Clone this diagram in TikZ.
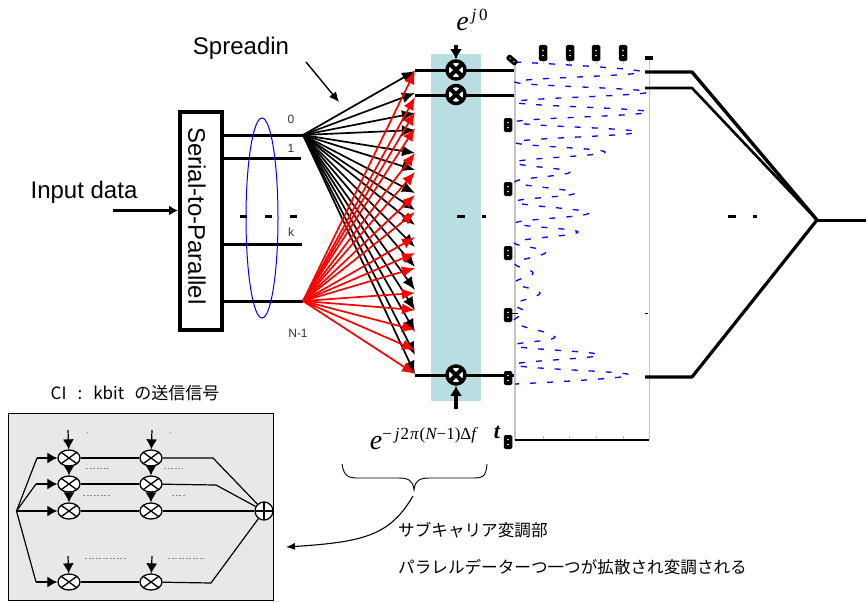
\documentclass[tikz,border=0pt]{standalone}
\usepackage{fontspec}
\setmainfont{Liberation Sans}
\newfontfamily\jpfont{Noto Sans CJK JP}
\newfontfamily\eqfont{Liberation Serif}
\usetikzlibrary{arrows.meta,shapes.geometric}
\definecolor{tealbar}{HTML}{B8DEE2}
\definecolor{panelgray}{HTML}{E8E8E8}
\definecolor{axisgray}{HTML}{C4C4C4}
\newcommand{\ExpLabel}[1]{{\eqfont\itshape\fontsize{28}{28}\selectfont e}\raisebox{10pt}{\eqfont\fontsize{17}{17}\selectfont #1}}
\tikzset{
bigtext/.style={font=\fontsize{24}{24}\selectfont,inner sep=0},
smalltext/.style={font=\fontsize{12}{12}\selectfont,inner sep=0,text=black!80},
jptext/.style={font=\jpfont\fontsize{16.6}{16.6}\selectfont,inner sep=0,anchor=west},
bus/.style={line width=3pt},
dotted bus/.style={line width=3pt,dash pattern=on 7pt off 18pt},
fan/.style={line width=1.7pt,-{Latex[length=13pt,width=11pt]}},
feed/.style={line width=3.5pt,-{Latex[length=10pt,width=12pt]}},
mixer/.style={circle,draw,fill=white,line width=3.5pt,minimum size=18pt,inner sep=0,
 path picture={\draw[line width=4pt](path picture bounding box.north west)--(path picture bounding box.south east)
 (path picture bounding box.north east)--(path picture bounding box.south west);}},
minimixer/.style={ellipse,draw,fill=white,line width=1.3pt,minimum width=22pt,minimum height=16pt,inner sep=0,
 path picture={\draw[line width=1.3pt](path picture bounding box.north west)--(path picture bounding box.south east)
 (path picture bounding box.north east)--(path picture bounding box.south west);}},
minisum/.style={ellipse,draw,fill=white,line width=1.3pt,minimum width=18pt,minimum height=18pt,inner sep=0,
 path picture={\draw[line width=1.3pt](path picture bounding box.north)--(path picture bounding box.south)
 (path picture bounding box.east)--(path picture bounding box.west);}},
minifeed/.style={line width=1.2pt,-{Latex[length=10pt,width=11pt]}},
miniwire/.style={line width=1.2pt},
scrib/.style={line width=.7pt,draw=black!45,dash pattern=on 2pt off 1.5pt},
axblob/.style={fill=black,rounded corners=1.5pt,minimum width=8.5pt,minimum height=14pt,inner sep=0,
 path picture={\fill[white](path picture bounding box.center)++(0,2.5)circle(.8pt)++(0,-5)circle(.8pt);}},
}
\begin{document}
\begin{tikzpicture}[x=1pt,y=-1pt]
\useasboundingbox(0,0)rectangle(866,602);
\fill[tealbar](431,54)rectangle(481,401);

\node[draw,line width=4pt,minimum width=42pt,minimum height=218pt,inner sep=0](sp)at(201,221){};
\node[bigtext,rotate=-90](sptext)at(197,216){Serial-to-Parallel};
\node[bigtext](input)at(84,192){Input data};
\node[bigtext](spread)at(241,48){Spreadin};
\coordinate(inputa)at(113,210.5);
\draw[line width=2.6pt,-{Latex[length=9pt,width=10pt]}](inputa)--(sp.west|-inputa);
\coordinate(spreada)at(306,62);
\coordinate(spreadb)at(339,102);
\draw[line width=1.4pt,-{Latex[length=10pt,width=9pt]}](spreada)--(spreadb);

\coordinate(out0)at(303,135);
\coordinate(out1)at(301,158);
\coordinate(outk)at(302,244);
\coordinate(outn)at(303,301);
\foreach \n in {0,1,k,n}
\draw[bus](sp.east|-out\n)--(out\n);
\node[smalltext](l0)at(291,119){0};
\node[smalltext](l1)at(291,148){1};
\node[smalltext](lk)at(291,232){k};
\node[smalltext](ln)at(298,333){N-1};
\coordinate(dota)at(240,216);
\coordinate(dotb)at(298,216);
\draw[dotted bus](dota)--(dotb);
\node[ellipse,draw=blue,line width=1pt,minimum width=32pt,minimum height=200pt,inner sep=0](group)at(262,218){};

\foreach \i/\y in {0/71,1/93,2/113,3/130,4/153,5/170,6/193,7/210,8/225,9/247,10/267,11/290,12/310,13/332,14/355,15/374}
\coordinate(tb\i)at(415,\y);
\foreach \i/\y in {0/71,1/97,2/112,3/128,4/153,5/172,6/195,7/212,8/237,9/253,10/268,11/293,12/310,13/330,14/350,15/374}
\coordinate(tr\i)at(415,\y);
\foreach \i in {0,...,15}
\draw[fan,black](out0)--(tb\i);
\foreach \i in {0,...,15}
\draw[fan,red](outn)--(tr\i);

\coordinate(end0)at(514,70);
\coordinate(end1)at(514,95);
\coordinate(end2)at(514,375);
\coordinate(st0)at(415,70);
\coordinate(st1)at(415,95);
\coordinate(st2)at(415,375);
\draw[bus](st0)--(end0);
\draw[bus](st1)--(end1);
\draw[bus](st2)--(end2);
\node[mixer](m0)at(456,70){};
\node[mixer](m1)at(456,94.500){};
\node[mixer](m2)at(456,375){};
\coordinate(fa)at(456,45);
\coordinate(fb)at(456,409);
\draw[feed](fa)--(m0);
\draw[feed](fb)--(m2);
\coordinate(da)at(457,216);
\coordinate(db)at(486,216);
\draw[line width=3pt,dash pattern=on 8pt off 17pt on 4pt off 9pt](da)--(db);
\node[inner sep=0](ej0)at(472,20){\ExpLabel{\,{\itshape j}\,0}};
\node[inner sep=0](ejn)at(423,439){\ExpLabel{−\hspace{3pt}{\itshape j}\hspace{1pt}2\hspace{1pt}{\itshape π}\hspace{1pt}({\itshape N}−1)Δ{\itshape f}}};
\node[inner sep=0,font=\eqfont\bfseries\itshape\fontsize{22}{22}\selectfont](tlab)at(497,432){t};

\draw[axisgray,line width=1pt](649,60)--(649,440);
\draw[axisgray,line width=2pt](515,60)--(515,440);
\foreach \x in {543,569,596,623}
\draw[axisgray,line width=.7pt](\x,440)--++(0,-4) (\x,60)--++(0,4);
\draw[black,line width=2.6pt](515,440)--(649,440);
\draw[black,line width=.7pt](512,313)--++(6,0) (645,313)--++(3,0);
\draw[blue,line width=1.3pt,dash pattern=on 6pt off 11pt,smooth,tension=.7]plot coordinates{
(515,62)(642,72)(515,82)(648,92)(515,102)(648,112)(515,122)(637,132)(515,142)(605,152)(515,162)(570,172)(515,182)(575,193)(515,202)(589,213)(515,223)
(578,232)(515,242)(546,252)(515,263)(533,273)(515,283)(540,293)(515,304)(525,312)(515,323)(555,337)(515,346)(599,355)(515,365)(630,375)(515,384)};
\foreach \i/\x/\y in {a/508/125,b/508/189,c/508/253,d/508/315,e/508/378,f/508/442}
\node[axblob](blob\i)at(\x,\y){};
\foreach \i/\x in {g/543,h/570,i/596,j/623}
\node[axblob,minimum height=16pt](blob\i)at(\x,53){};
\node[axblob,rotate=50,minimum height=12pt,minimum width=6pt](blobk)at(512,60){};
\fill(645,56)rectangle(653,60);

\coordinate(r0)at(645,72);
\coordinate(r1)at(645,88);
\coordinate(r2)at(645,377);
\coordinate(k0)at(692,72);
\coordinate(k1)at(692,88);
\coordinate(k2)at(692,377);
\coordinate(join)at(817,220);
\coordinate(last)at(866,220);
\draw[line width=3.4pt,line join=bevel](r0)--(k0)--(join);
\draw[line width=2.6pt,line join=bevel](r1)--(k1)--(join);
\draw[line width=3.2pt,line join=bevel](r2)--(k2)--(join);
\draw[line width=3pt](join)--(last);
\coordinate(ra)at(728,216);
\coordinate(rb)at(757,216);
\draw[line width=3pt,dash pattern=on 8pt off 17pt on 4pt off 9pt](ra)--(rb);

\draw[line width=.9pt](342,464)..controls(344,478)and(350,478)..(360,478)--(398,478)..controls(408,478)and(413,480)..(414,490)..controls(415,480)and(420,478)..(430,478)--(470,478)..controls(482,478)and(486,478)..(487,464);
\coordinate(cura)at(413,496);
\coordinate(curb)at(286,547);
\draw[line width=1.1pt,-{Latex[length=9pt,width=7pt]}](cura)..controls(390,535)and(365,542)..(curb);
\node[jptext](jp1)at(398,530){サブキャリア変調部};
\node[jptext](jp2)at(398,567){パラレルデーターつ一つが拡散され変調される};

\node[inner sep=0,font=\jpfont\fontsize{17}{17}\selectfont](cititle)at(135,393){CI\hspace{11pt}:\hspace{11pt}kbit\hspace{10pt}の送信信号};
\node[draw,fill=panelgray,line width=1pt,minimum width=265pt,minimum height=187pt,inner sep=0](panel)at(141,506.500){};
\coordinate(pin)at(16.500,511);
\foreach \r/\y in {a/458,b/484,c/511,d/582}{
\node[minimixer](ml\r)at(69,\y){};
\node[minimixer](mr\r)at(151,\y){};
\draw[miniwire](ml\r)--(mr\r);}
\node[minisum](msum)at(264,511){};
\foreach \r/\x/\y in {a/37/458,b/36/484,d/36/582}{
\coordinate(bend\r)at(\x,\y);
\draw[miniwire](pin)--(bend\r);
\draw[minifeed](bend\r)--(ml\r);}
\draw[minifeed](pin)--(mlc);
\coordinate(outa)at(213,458);
\coordinate(outb)at(216,485);
\coordinate(outd)at(211,583);
\draw[miniwire](mra)--(outa)--(msum);
\draw[miniwire](mrb)--(outb)--(msum);
\draw[miniwire](mrc)--(msum);
\draw[miniwire](mrd)--(outd)--(msum);
\foreach \c/\x in {l/68,r/152}{
\coordinate(top\c)at(\x,430);
\coordinate(low\c)at(\x,556);
\draw[minifeed](top\c)--(m\c a);
\draw[minifeed](m\c a)--(m\c b);
\draw[minifeed](m\c b)--(m\c c);
\draw[minifeed](low\c)--(m\c d);}
\foreach \x/\y/\w in {87/432/1,170/432/1,86/468/24,164/468/18,83/495/28,172/495/14,85/558/42,168/558/36}
\draw[scrib](\x,\y)--++(\w,0);
\end{tikzpicture}
\end{document}
